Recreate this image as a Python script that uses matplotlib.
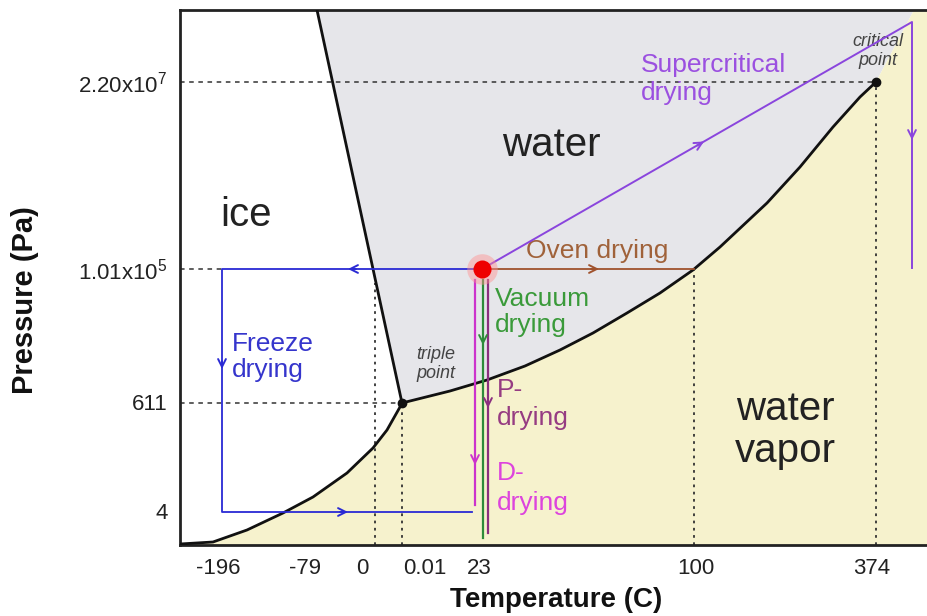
import matplotlib
matplotlib.use("Agg")
import matplotlib.pyplot as plt
from matplotlib.patches import Polygon

plt.rcParams['font.family'] = ['Liberation Sans', 'DejaVu Sans']
plt.rcParams['mathtext.fontset'] = 'custom'
plt.rcParams['mathtext.rm'] = 'Liberation Sans'
plt.rcParams['mathtext.it'] = 'Liberation Sans:italic'

# ---- schematic axis positions and labels ----
temp_tick_pos = [38, 125, 182, 245, 299, 516, 692]
temp_tick_labels = ['-196', '-79', '0', '0.01', '23', '100', '374']
pres_tick_pos = [34, 143, 276, 463]
pres_tick_labels = ['4', '611', '1.01x10$^{5}$', '2.20x10$^{7}$']

# ---- phase boundaries (schematic coordinates) ----
sub_x = [0, 33, 67, 103, 133, 167, 193, 207, 220, 222]
sub_y = [1, 3, 15, 32, 48, 72, 97, 115, 138, 142]
vap_x = [222, 270, 307, 345, 380, 413, 447, 480, 513, 540, 587, 620, 653, 680, 696]
vap_y = [142, 154, 165, 179, 195, 212, 232, 252, 275, 298, 342, 378, 418, 448, 463]
melt_x = [137, 222]
melt_y = [535, 142]
triple = (222, 142)
critical = (696, 463)
start = (302, 276)
zero_line_x = 195
boiling = (514, 276)

# ---- drying paths ----
freeze_x = [302, 42, 42, 292]
freeze_y = [276, 276, 33, 33]
ddry_x = [295, 295]
ddry_y = [265, 40]
vac_x = [303, 303]
vac_y = [265, 7]
pdry_x = [308, 308]
pdry_y = [265, 12]
oven_x = [302, 514]
oven_y = [276, 276]
super_x = [302, 732, 732]
super_y = [276, 523, 277]

XMAX, YMAX = 748, 535

fig = plt.figure(figsize=(9.28, 6.16), dpi=100)
ax = fig.add_axes([180/928, 71/616, 748/928, 535/616])
ax.set_xlim(0, XMAX)
ax.set_ylim(0, YMAX)

gray = '#e6e6ea'
yellow = '#f6f2cd'

# water region
water_poly = [(melt_x[0], melt_y[0])] + list(zip(vap_x, vap_y)) + [(734, YMAX)]
ax.add_patch(Polygon(water_poly, closed=True, facecolor=gray, edgecolor='none', zorder=0))
# vapor region
vapor_poly = list(zip(sub_x, sub_y)) + list(zip(vap_x[1:], vap_y[1:])) + [(734, YMAX), (XMAX, YMAX), (XMAX, 0), (0, 0)]
ax.add_patch(Polygon(vapor_poly, closed=True, facecolor=yellow, edgecolor='none', zorder=0))

# guide lines
dot = dict(color='#333333', lw=1.3, ls=(0, (1.5, 2.5)), zorder=1)
dash = dict(color='#333333', lw=1.1, ls=(0, (3, 3)), zorder=1)
ax.plot([0, critical[0]], [critical[1], critical[1]], **dash)
ax.plot([0, 42], [276, 276], **dash)
ax.plot([0, triple[0]], [triple[1], triple[1]], **dash)
ax.plot([zero_line_x, zero_line_x], [0, 262], **dot)
ax.plot([triple[0], triple[0]], [0, triple[1]], **dot)
ax.plot([boiling[0], boiling[0]], [0, boiling[1]], **dot)
ax.plot([critical[0], critical[0]], [0, critical[1]], **dot)

# phase boundaries
ax.plot(sub_x, sub_y, color='#111111', lw=2, zorder=3, solid_joinstyle='round')
ax.plot(vap_x, vap_y, color='#111111', lw=2, zorder=3, solid_joinstyle='round')
ax.plot(melt_x, melt_y, color='#111111', lw=2, zorder=3)
ax.plot(*triple, 'o', color='#111111', ms=6, zorder=4)
ax.plot(*critical, 'o', color='#111111', ms=6, zorder=4)

# paths
c_blue = '#2a2ad4'
c_mag = '#cc33cc'
c_green = '#2e8b3a'
c_p = '#8b2f7f'
c_oven = '#a0522d'
c_super = '#8a45dd'

ax.plot(freeze_x, freeze_y, color=c_blue, lw=1.3, zorder=5)
ax.plot(ddry_x, ddry_y, color=c_mag, lw=1.6, zorder=5)
ax.plot(vac_x, vac_y, color=c_green, lw=1.6, zorder=5)
ax.plot(pdry_x, pdry_y, color=c_p, lw=1.6, zorder=5)
ax.plot(oven_x, oven_y, color=c_oven, lw=1.3, zorder=5)
ax.plot(super_x, super_y, color=c_super, lw=1.4, zorder=5)


def mid_arrow(x, y, dx, dy, color):
    ax.annotate('', xy=(x + dx, y + dy), xytext=(x, y),
                arrowprops=dict(arrowstyle='->', color=color, lw=1.4,
                                mutation_scale=14, shrinkA=0, shrinkB=0),
                zorder=6)


mid_arrow(176, 276, -8, 0, c_blue)
mid_arrow(42, 184, 0, -8, c_blue)
mid_arrow(160, 33, 8, 0, c_blue)
mid_arrow(295, 88, 0, -8, c_mag)
mid_arrow(303, 208, 0, -8, c_green)
mid_arrow(308, 145, 0, -8, c_p)
mid_arrow(411, 276, 8, 0, c_oven)
mid_arrow(517, 399.5, 7, 4.0, c_super)
mid_arrow(732, 413, 0, -8, c_super)

# start point
ax.plot(*start, 'o', color='#ff9090', ms=22, alpha=0.45, zorder=7, mec='none')
ax.plot(*start, 'o', color='#ee0000', ms=13, zorder=8, mec='none')

# region labels
ax.text(40, 330, 'ice', fontsize=29, color='#222222', va='center', ha='left')
ax.text(322, 400, 'water', fontsize=29, color='#222222', va='center', ha='left')
ax.text(605, 115, 'water\nvapor', fontsize=29, color='#222222', va='center', ha='center',
        linespacing=1.1)

# path labels
fs = 19
ax.text(461, 466, 'Supercritical\ndrying', fontsize=fs, color='#9b50e0', va='center', ha='left',
        linespacing=1.2)
ax.text(346, 294, 'Oven drying', fontsize=fs, color='#a0623a', va='center', ha='left')
ax.text(315, 233, 'Vacuum\ndrying', fontsize=fs, color='#3a9a3a', va='center', ha='left',
        linespacing=1.1)
ax.text(52, 188, 'Freeze\ndrying', fontsize=fs, color='#3535cc', va='center', ha='left',
        linespacing=1.13)
ax.text(317, 141, 'P-\ndrying', fontsize=fs, color='#963c82', va='center', ha='left',
        linespacing=1.2)
ax.text(317, 57, 'D-\ndrying', fontsize=fs, color='#dd44dd', va='center', ha='left',
        linespacing=1.3)
ax.text(256, 181, 'triple\npoint', fontsize=13, color='#444444', style='italic',
        va='center', ha='center', linespacing=1.2)
ax.text(698, 494, 'critical\npoint', fontsize=13, color='#444444', style='italic',
        va='center', ha='center', linespacing=1.2)

# axes
ax.set_xticks(temp_tick_pos)
ax.set_xticklabels(temp_tick_labels)
ax.set_yticks(pres_tick_pos)
ax.set_yticklabels(pres_tick_labels)
ax.tick_params(axis='both', length=0, labelsize=16, colors='#222222', pad=9)
for s in ['left', 'top', 'bottom']:
    ax.spines[s].set_linewidth(2)
    ax.spines[s].set_color('#222222')
ax.spines['right'].set_visible(False)

fig.text(556/928, 1 - 600/616, 'Temperature (C)', fontsize=20, fontweight='bold',
         ha='center', va='center', color='#111111')
fig.text(25/928, 1 - 300/616, 'Pressure (Pa)', fontsize=21, fontweight='bold',
         ha='center', va='center', rotation=90, color='#111111')

fig.savefig('out.png', dpi=100)
